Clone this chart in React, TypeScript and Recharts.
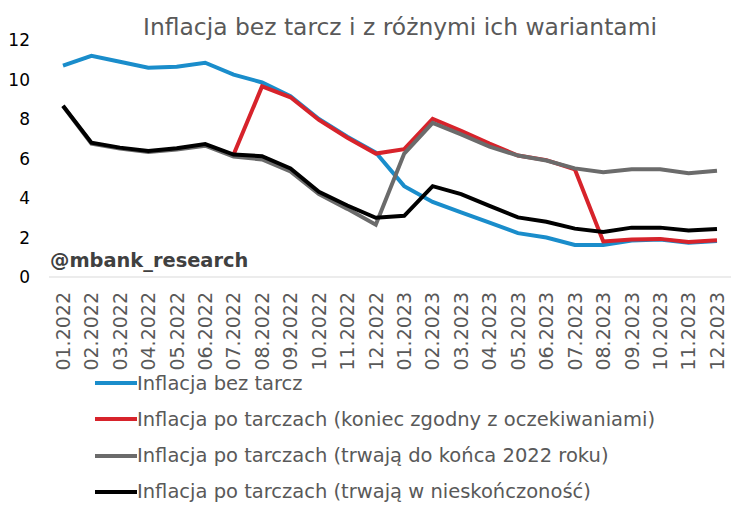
import React from 'react';
import { LineChart, Line, XAxis, YAxis, Legend } from 'recharts';

const months: string[] = [
  '01.2022', '02.2022', '03.2022', '04.2022', '05.2022', '06.2022',
  '07.2022', '08.2022', '09.2022', '10.2022', '11.2022', '12.2022',
  '01.2023', '02.2023', '03.2023', '04.2023', '05.2023', '06.2023',
  '07.2023', '08.2023', '09.2023', '10.2023', '11.2023', '12.2023',
];

const bezTarcz: (number | null)[] = [
  10.7, 11.2, 10.9, 10.6, 10.65, 10.85, 10.25, 9.85, 9.15, 8.0, 7.1, 6.3,
  4.6, 3.8, 3.27, 2.75, 2.22, 2.0, 1.62, 1.62, 1.85, 1.9, 1.73, 1.82,
];

const koniecZgodny: (number | null)[] = [
  null, null, null, null, null, null, 6.2, 9.65, 9.1, 7.95, 7.05, 6.25,
  6.47, 8.0, 7.4, 6.75, 6.15, 5.92, 5.45, 1.8, 1.9, 1.93, 1.77, 1.86,
];

const doKonca2022: (number | null)[] = [
  8.65, 6.75, 6.5, 6.33, 6.45, 6.65, 6.1, 5.95, 5.35, 4.2, 3.45, 2.65,
  6.25, 7.8, 7.22, 6.6, 6.15, 5.9, 5.5, 5.3, 5.45, 5.45, 5.25, 5.38,
];

const wNieskonczonosc: (number | null)[] = [
  8.67, 6.8, 6.55, 6.38, 6.52, 6.73, 6.2, 6.12, 5.5, 4.32, 3.62, 3.0,
  3.1, 4.6, 4.2, 3.6, 3.02, 2.8, 2.45, 2.28, 2.5, 2.5, 2.35, 2.43,
];

const yTicks: number[] = [0, 2, 4, 6, 8, 10, 12];

const seriesNames: string[] = [
  'Inflacja bez tarcz',
  'Inflacja po tarczach (koniec zgodny z oczekiwaniami)',
  'Inflacja po tarczach (trwają do końca 2022 roku)',
  'Inflacja po tarczach (trwają w nieskończoność)',
];
const seriesKeys: string[] = ['blue', 'red', 'grey', 'black'];
const seriesColors: string[] = ['#1a8dcb', '#d7232b', '#6b6b6b', '#000000'];
const seriesValues = [bezTarcz, koniecZgodny, doKonca2022, wNieskonczonosc];

const data = months.map((m, i) => {
  const row: Record<string, string | number | null> = { month: m };
  seriesKeys.forEach((k, s) => {
    row[k] = seriesValues[s][i];
  });
  return row;
});

const FONT = '"DejaVu Sans", Verdana, sans-serif';

const XTick = (props: any) => {
  const { x, y, payload } = props;
  return (
    <g transform={`translate(${x},${y + 13})`}>
      <text
        transform="rotate(-90)"
        textAnchor="end"
        dy="0.36em"
        fontSize={19}
        fill="#595959"
        fontFamily={FONT}
      >
        {payload.value}
      </text>
    </g>
  );
};

const LegendContent = () => (
  <div style={{ height: 145, paddingLeft: 95, fontFamily: FONT }}>
    {seriesNames.map((name, i) => (
      <div
        key={name}
        style={{ height: 36.25, display: 'flex', alignItems: 'center' }}
      >
        <div style={{ width: 42, height: 4, background: seriesColors[i] }} />
        <span style={{ fontSize: 19.5, color: '#595959', whiteSpace: 'nowrap' }}>
          {name}
        </span>
      </div>
    ))}
  </div>
);

export default function App() {
  return (
    <div
      style={{
        position: 'absolute',
        left: 0,
        top: 0,
        width: 747,
        height: 516,
        background: '#fff',
        fontFamily: FONT,
      }}
    >
      <div
        style={{
          position: 'absolute',
          left: 0,
          width: 800,
          top: 12,
          textAlign: 'center',
          fontSize: 23.4,
          color: '#595959',
          lineHeight: '30px',
          whiteSpace: 'nowrap',
        }}
      >
        Inflacja bez tarcz i z różnymi ich wariantami
      </div>
      <LineChart
        width={747}
        height={516}
        data={data}
        margin={{ top: 40, right: 16, bottom: 6, left: 0 }}
      >
        <XAxis
          dataKey="month"
          interval={0}
          height={88}
          padding={{ left: 14, right: 14 }}
          tick={<XTick />}
          tickLine={false}
          tickSize={0}
          axisLine={{ stroke: '#d9d9d9', strokeWidth: 1 }}
        />
        <YAxis
          domain={[0, 12]}
          ticks={yTicks}
          width={49}
          axisLine={false}
          tickLine={false}
          tickSize={0}
          tickMargin={19}
          tick={{ fontSize: 17, fill: '#000', fontFamily: FONT }}
          interval={0}
        />
        <Legend verticalAlign="bottom" content={<LegendContent />} />
        {seriesKeys.map((k, i) => (
          <Line
            key={k}
            type="linear"
            dataKey={k}
            name={seriesNames[i]}
            stroke={seriesColors[i]}
            strokeWidth={4}
            dot={false}
            activeDot={false}
            isAnimationActive={false}
            connectNulls={false}
          />
        ))}
      </LineChart>
      <div
        style={{
          position: 'absolute',
          left: 50,
          top: 248,
          fontSize: 19.4,
          fontWeight: 'bold',
          color: '#404040',
          lineHeight: '26px',
          whiteSpace: 'nowrap',
        }}
      >
        @mbank_research
      </div>
    </div>
  );
}
